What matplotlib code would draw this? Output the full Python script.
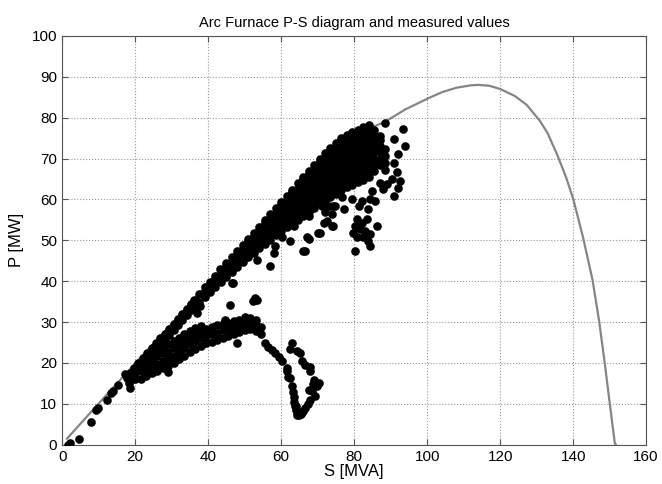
import matplotlib
matplotlib.use("Agg")
import matplotlib.pyplot as plt

plt.rcParams['font.family'] = ['Liberation Sans', 'DejaVu Sans']

# theoretical P-S curve of the furnace
curve_S = [1.3, 10, 20, 30, 40, 50, 60, 70, 78, 84, 88.5, 94, 100, 104, 108, 112, 114,
           117, 120, 124, 127.3, 130.9, 133, 135.5, 138, 140, 142.7, 145.3, 147.1,
           148.6, 150, 151.4, 151.7]
curve_P = [1.5, 10.1, 19.9, 29.6, 39.5, 49.4, 59.2, 68.5, 74.5, 77.3, 79.0, 82.0, 84.6,
           86.2, 87.3, 87.9, 88.0, 87.8, 87.0, 85.3, 83.1, 79.2, 76.2, 71.2, 65.6, 60.2,
           50.8, 40.4, 30.4, 20.4, 10.4, 0.5, 0.0]

# dense band of measurements (S column, P values)
band_cols = [
    (36.0, [33.8, 35.3]),
    (37.5, [35.0, 36.8]),
    (39.0, [36.2, 37.4, 38.5]),
    (40.5, [37.4, 38.6, 39.9]),
    (42.0, [38.6, 39.9, 41.3]),
    (43.5, [39.8, 41.1, 42.7]),
    (45.0, [41.0, 42.3, 43.6, 44.4]),
    (46.5, [42.2, 43.5, 44.8, 45.9]),
    (48.0, [43.4, 44.7, 46.0, 47.4]),
    (49.5, [44.8, 46.1, 47.4, 48.9]),
    (51.0, [46.0, 47.3, 48.6, 49.9, 50.4]),
    (52.5, [47.0, 48.3, 49.6, 50.9, 51.9]),
    (54.0, [48.0, 49.3, 50.6, 51.9, 53.3]),
    (55.5, [49.0, 50.3, 51.6, 52.9, 54.2, 54.9]),
    (57.0, [50.0, 51.3, 52.6, 53.9, 55.2, 56.4]),
    (58.5, [51.2, 52.5, 53.8, 55.1, 56.4, 57.8]),
    (60.0, [52.2, 53.5, 54.8, 56.1, 57.4, 58.7, 59.4]),
    (61.5, [53.2, 54.5, 55.8, 57.1, 58.4, 59.7, 60.9]),
    (63.0, [54.0, 55.3, 56.6, 57.9, 59.2, 60.5, 61.8, 62.4]),
    (64.5, [55.0, 56.3, 57.6, 58.9, 60.2, 61.5, 62.8, 63.9]),
    (66.0, [56.0, 57.3, 58.6, 59.9, 61.2, 62.5, 63.8, 65.1, 65.4]),
    (67.5, [57.0, 58.3, 59.6, 60.9, 62.2, 63.5, 64.8, 66.1, 66.9]),
    (69.0, [58.0, 59.3, 60.6, 61.9, 63.2, 64.5, 65.8, 67.1, 68.4]),
    (70.5, [59.0, 60.3, 61.6, 62.9, 64.2, 65.5, 66.8, 68.1, 69.4, 69.9]),
    (72.0, [59.8, 61.1, 62.4, 63.7, 65.0, 66.3, 67.6, 68.9, 70.2, 71.3]),
    (73.5, [60.6, 61.9, 63.2, 64.5, 65.8, 67.1, 68.4, 69.7, 71.0, 72.6]),
    (75.0, [61.4, 62.7, 64.0, 65.3, 66.6, 67.9, 69.2, 70.5, 71.8, 73.1, 73.9]),
    (76.5, [62.2, 63.5, 64.8, 66.1, 67.4, 68.7, 70.0, 71.3, 72.6, 73.9, 75.0]),
    (78.0, [63.0, 64.3, 65.6, 66.9, 68.2, 69.5, 70.8, 72.1, 73.4, 74.7, 75.8]),
    (79.5, [63.6, 64.9, 66.2, 67.5, 68.8, 70.1, 71.4, 72.7, 74.0, 75.3, 76.4]),
    (81.0, [64.2, 65.5, 66.8, 68.1, 69.4, 70.7, 72.0, 73.3, 74.6, 75.9, 77.0]),
    (82.5, [64.8, 66.1, 67.4, 68.7, 70.0, 71.3, 72.6, 73.9, 75.2, 76.5, 77.6]),
    (84.0, [65.6, 66.9, 68.2, 69.5, 70.8, 72.1, 73.4, 74.7, 76.0, 77.2, 78.3]),
    (85.5, [67.0, 68.5, 70.0, 71.5, 73.0, 74.5, 76.0, 77.0]),
    (87.0, [68.5, 70.0, 71.5, 73.0, 74.5, 75.5]),
    (88.5, [67.2, 69.0, 70.6, 72.3]),
]

# thin upper diagonal (S column, P values)
diag_cols = [
    (18.5, [16.1, 17.6]), (19.7, [17.3, 18.8]), (20.9, [18.5, 20.0]),
    (22.1, [19.7, 21.2]), (23.3, [20.9, 22.4]), (24.5, [22.1, 23.6]),
    (25.7, [23.3, 24.8]), (26.9, [24.5, 26.0]), (28.1, [25.7, 27.2]),
    (29.3, [26.9, 28.4]), (30.5, [28.1, 29.6]), (31.7, [29.3, 30.8]),
    (32.9, [30.5, 32.0]), (34.1, [31.7, 33.2]), (35.3, [32.9, 34.4]),
]

# lower cloud (S column, P values)
low_cols = [
    (20.0, [16.0, 17.5]), (21.5, [16.2, 18.0]),
    (23.0, [16.8, 18.6, 20.3]), (24.5, [17.5, 19.3, 21.0]),
    (26.0, [18.0, 19.8, 21.6]), (27.5, [18.8, 20.6, 22.4, 24.0]),
    (29.0, [19.2, 21.0, 22.8, 24.6]), (30.5, [20.0, 21.8, 23.6, 25.3]),
    (32.0, [21.0, 22.8, 24.6, 26.2]), (33.5, [21.8, 23.6, 25.4, 27.0]),
    (35.0, [22.8, 24.6, 26.4, 27.8]), (36.5, [23.5, 25.3, 27.1, 28.5]),
    (38.0, [24.2, 26.0, 27.8, 29.0]), (39.5, [24.8, 26.6, 28.4]),
    (41.0, [25.2, 27.0, 28.8]), (42.5, [25.6, 27.4, 29.2]),
    (44.0, [26.2, 28.0, 29.6]), (45.5, [26.6, 28.4, 29.8]),
    (47.0, [27.0, 28.8, 30.2]), (48.5, [27.5, 29.2, 30.6]),
    (50.0, [28.0, 29.6, 31.2]), (51.5, [28.2, 29.8, 31.0]),
    (53.0, [27.8, 29.4, 30.4]), (54.5, [27.2, 28.8]),
]

# isolated points near the origin and between the two groups
low_load_S = [1.7, 2.2, 4.7, 7.9, 9.3, 9.7, 12.4, 13.3, 13.9, 15.4, 17.3, 17.7, 18.6, 18.2,
              18.6, 36.9, 37.8, 29.1, 44.7, 47.8, 46.0, 52.9, 52.4, 46.5]
low_load_P = [0.0, 0.4, 1.4, 5.5, 8.6, 9.0, 11.0, 12.7, 13.1, 14.7, 17.2, 16.3, 15.5, 15.1,
              13.9, 32.3, 33.9, 17.8, 30.6, 24.9, 34.3, 35.4, 35.1, 39.6]

# scattered points below the dense band and at its right end
sparse_S = [72.5, 70.2, 67.0, 67.5, 66.6, 62.5, 60.2, 58.4, 57.0, 53.3, 50.6, 46.9, 52.9,
            46.9, 43.3, 72.0, 73.0, 76.6, 74.8, 73.9, 73.9, 71.6, 66.1, 57.9, 53.3,
            94.0, 93.5, 90.8, 88.5, 92.1, 90.8, 91.7, 92.6, 92.1, 90.3, 88.9, 88.0, 90.8,
            84.8, 84.4, 82.1, 79.4, 81.2, 83.9, 77.1, 74.3, 71.1, 74.3, 67.5, 63.4, 70.7,
            80.7, 82.1, 83.5, 80.3, 81.6, 79.8, 83.0, 84.4, 80.7, 82.5, 83.9, 84.4, 86.2,
            80.3, 85.8, 87.1]
sparse_P = [54.7, 51.9, 50.7, 50.2, 47.4, 49.8, 50.7, 48.6, 43.7, 45.3, 47.0, 43.3, 36.0,
            39.6, 42.9, 56.8, 58.4, 60.5, 58.4, 56.4, 53.5, 54.3, 47.4, 47.0, 35.5,
            73.1, 77.2, 74.8, 78.8, 71.1, 69.0, 66.6, 64.5, 62.9, 65.0, 63.7, 62.5, 60.9,
            62.1, 60.0, 59.6, 60.0, 58.4, 57.6, 57.6, 58.4, 58.4, 53.5, 56.0, 53.5, 51.9,
            55.1, 54.3, 55.1, 53.5, 52.7, 51.9, 52.3, 51.5, 50.7, 50.7, 49.8, 48.6, 53.5,
            47.4, 59.6, 64.1]

# descending loop S 55-70, P 7-25
loop_S = [55.6, 56.5, 57.4, 58.4, 59.3, 60.2, 61.6, 61.6, 62.0, 62.5, 63.0, 63.2, 63.4, 63.6,
          63.8, 64.3, 64.3, 65.2, 65.8, 66.6, 67.3, 67.9, 68.4, 67.5, 69.8, 70.3, 68.9,
          67.9, 67.9, 66.6, 65.7, 65.2, 64.3, 62.9, 62.5, 64.0, 64.5, 65.0, 65.5, 66.0,
          64.0, 69.2, 68.7]
loop_P = [24.9, 24.0, 23.3, 22.5, 21.5, 20.4, 18.8, 18.0, 16.6, 16.3, 14.3, 13.0, 11.8, 10.5,
          9.4, 8.0, 7.4, 7.5, 8.0, 9.0, 10.0, 11.0, 13.1, 13.5, 14.3, 15.0, 15.9, 18.0,
          18.9, 19.5, 20.4, 22.5, 22.9, 24.9, 23.5, 8.5, 7.5, 7.2, 7.6, 8.2, 9.5, 12.0, 14.8]

cols = band_cols + diag_cols + low_cols
meas_S = [s for s, ps in cols for p in ps] + low_load_S + sparse_S + loop_S
meas_P = [p for s, ps in cols for p in ps] + low_load_P + sparse_P + loop_P

fig = plt.figure(figsize=(6.62, 4.84), dpi=100)
ax = fig.add_axes([0.094, 0.081, 0.882, 0.845])

ax.plot(curve_S, curve_P, color='#858585', linewidth=1.6, zorder=2)
ax.plot(meas_S, meas_P, 'o', color='k', markersize=6.2, markeredgewidth=0, zorder=3)

ax.set_xlim(0, 160)
ax.set_ylim(0, 100)
ax.set_xticks(range(0, 161, 20))
ax.set_yticks(range(0, 101, 10))
ax.grid(True, linestyle=':', color='#999999', linewidth=0.8)
ax.tick_params(direction='in', top=True, right=True, labelsize=11, length=4, color='#555555')
for sp in ax.spines.values():
    sp.set_color('#555555')

ax.set_title('Arc Furnace P-S diagram and measured values', fontsize=10.5)
ax.set_xlabel('S [MVA]', fontsize=12, labelpad=0)
ax.set_ylabel('P [MW]', fontsize=12, labelpad=6)

fig.savefig('out.png', dpi=100)
